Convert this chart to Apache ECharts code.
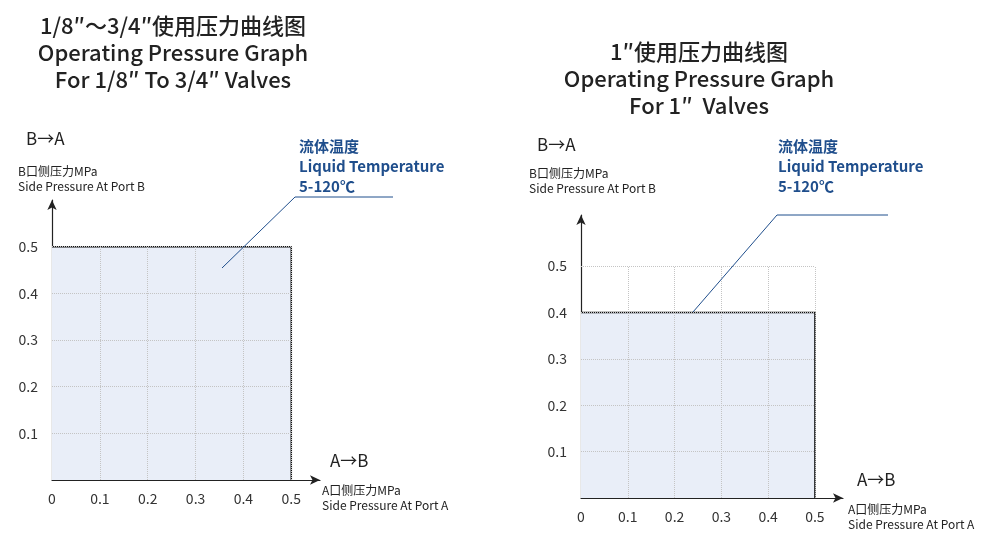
<!DOCTYPE html>
<html><head><meta charset="utf-8">
<script src="https://cdn.jsdelivr.net/npm/echarts@6/dist/echarts.min.js"></script>
<style>html,body{margin:0;background:#fff}#main{width:998px;height:540px}</style>
</head><body><div id="main"></div>
<script>
var ticks = [0.1, 0.2, 0.3, 0.4, 0.5];
var leftArea = [[0, 0.5], [0.5, 0.5], [0.5, 0]];
var rightArea = [[0, 0.4], [0.5, 0.4], [0.5, 0]];
var font = '"Noto Sans CJK SC", "Noto Sans", sans-serif';
var blue = '#1f4e8c';

function gridLines(){
	var d = [];
	ticks.forEach(function(t){
		d.push([{coord:[t,0]},{coord:[t,0.5]}]);
		d.push([{coord:[0,t]},{coord:[0.5,t]}]);
	});
	return d;
}
function xAxis(i, max){
	return {gridIndex:i, type:'value', min:0, max:max, interval:0.1,
		axisLine:{lineStyle:{color:'#222', width:1.2}, symbol:['none','arrow'], symbolSize:[7,10]},
		axisTick:{show:false}, splitLine:{show:false},
		axisLabel:{color:'#333', fontSize:14, fontFamily:font, margin:12,
			formatter:function(v){ return v > 0.5001 ? '' : (v === 0 ? '0' : v.toFixed(1)); }}};
}
function yAxis(i, max){
	return {gridIndex:i, type:'value', min:0, max:max, interval:0.1,
		axisLine:{show:true, lineStyle:{color:'#222', width:1.2}, symbol:['none','arrow'], symbolSize:[7,10]},
		axisTick:{show:false}, splitLine:{show:false},
		axisLabel:{color:'#333', fontSize:14, fontFamily:font, margin:14,
			formatter:function(v){ return (v === 0 || v > 0.5001) ? '' : v.toFixed(1); }}};
}
function area(i, data){
	return {type:'line', xAxisIndex:i, yAxisIndex:i, data:data, symbol:'none', silent:true,
		lineStyle:{color:'#111', width:1.5}, areaStyle:{color:'#e9eef8', opacity:1}, z:1,
		markLine:{silent:true, symbol:'none', label:{show:false},
			lineStyle:{color:'#c4c4c4', type:'dotted', width:1}, data:gridLines()}};
}
function txt(x, y, s, size, color, weight){
	return {type:'text', left:x, top:y, style:{text:s, fontSize:size, fill:color||'#222',
		fontFamily:font, fontWeight:weight||'normal', lineHeight:size*1.25}};
}
function line(pts){
	return {type:'polyline', z:100, shape:{points:pts}, style:{stroke:blue, lineWidth:1, fill:null}};
}
function title(cx, y, s){
	return {type:'text', x:cx, y:y, style:{text:s, textAlign:'center', fontSize:22, lineHeight:27,
		fill:'#222', fontFamily:font, fontWeight:500}};
}

var chart = echarts.init(document.getElementById('main'));
chart.setOption({
	animation:false,
	grid:[{left:52, top:200, width:268, height:280},
		  {left:581, top:215, width:262, height:283}],
	xAxis:[xAxis(0, 0.56), xAxis(1, 0.56)],
	yAxis:[yAxis(0, 0.6), yAxis(1, 0.61)],
	series:[area(0, leftArea), area(1, rightArea)],
	graphic:[
		title(173, 12, '1/8″～3/4″使用压力曲线图\nOperating Pressure Graph\nFor 1/8″ To 3/4″ Valves'),
		title(699, 38, '1″使用压力曲线图\nOperating Pressure Graph\nFor 1″  Valves'),
		txt(26, 128, 'B→A', 17),
		txt(18, 164, 'B口侧压力MPa\nSide Pressure At Port B', 12),
		txt(330, 450, 'A→B', 17),
		txt(322, 483, 'A口侧压力MPa\nSide Pressure At Port A', 12),
		txt(537, 134, 'B→A', 17),
		txt(529, 166, 'B口侧压力MPa\nSide Pressure At Port B', 12),
		txt(857, 469, 'A→B', 17),
		txt(848, 502, 'A口侧压力MPa\nSide Pressure At Port A', 12),
		{type:'text', left:299, top:136, style:{text:'流体温度\nLiquid Temperature\n5-120℃', fontSize:15, lineHeight:20, fill:blue, fontFamily:font, fontWeight:'bold'}},
		{type:'text', left:778, top:136, style:{text:'流体温度\nLiquid Temperature\n5-120℃', fontSize:15, lineHeight:20, fill:blue, fontFamily:font, fontWeight:'bold'}},
		line([[222,268],[295,197],[393,197]]),
		line([[693,312],[777,215],[888,215]])
	]
});
</script></body></html>
